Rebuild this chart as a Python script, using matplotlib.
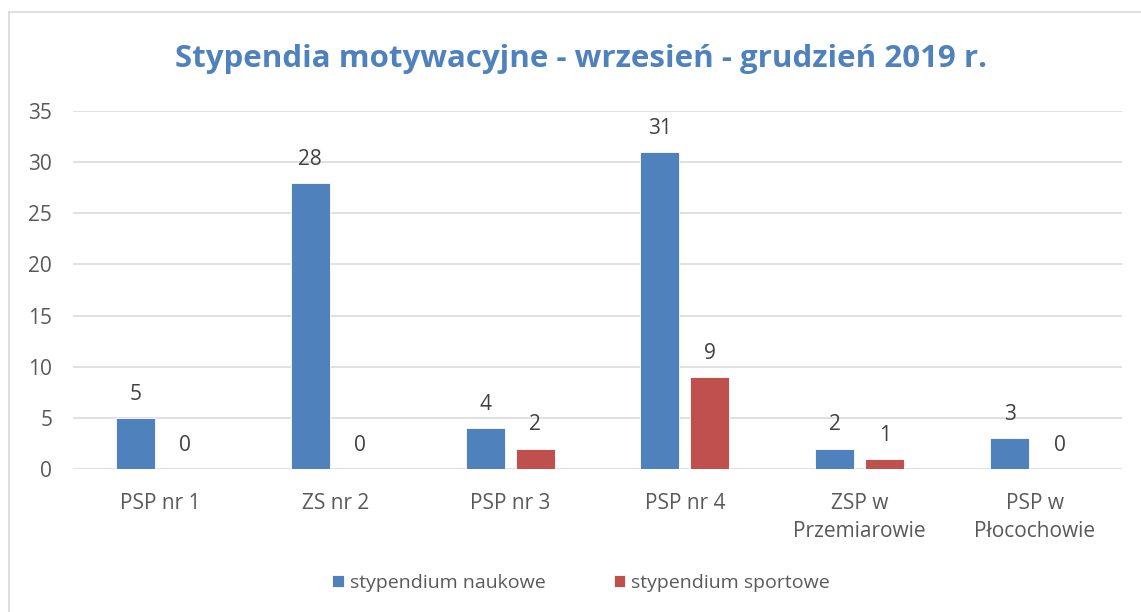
import matplotlib
matplotlib.use("Agg")
import matplotlib.pyplot as plt
from matplotlib.lines import Line2D
import numpy as np

categories = ["PSP nr 1", "ZS nr 2", "PSP nr 3", "PSP nr 4", "ZSP w\nPrzemiarowie", "PSP w\nPłocochowie"]
naukowe = [5, 28, 4, 31, 2, 3]
sportowe = [0, 0, 2, 9, 1, 0]
series_names = ["stypendium naukowe", "stypendium sportowe"]
title = "Stypendia motywacyjne - wrzesień - grudzień 2019 r."
yticks = [0, 5, 10, 15, 20, 25, 30, 35]

BLUE = "#4F81BD"
RED = "#C0504D"
GRID = "#D9D9D9"
TICKC = "#595959"
LABELC = "#404040"
FONT = "Open Sans"

plt.rcParams['font.family'] = [FONT, 'DejaVu Sans']

W, H = 1141, 612
fig = plt.figure(figsize=(W / 100, H / 100), dpi=100)
ax = fig.add_axes([73 / W, 1 - 469 / H, (1122 - 73) / W, (469 - 111) / H])

x = np.arange(len(categories))
bw = 0.223
off = 0.143
b1 = ax.bar(x - off, naukowe, bw, color=BLUE, edgecolor="white", linewidth=0.6, zorder=3, label=series_names[0])
b2 = ax.bar(x + off, sportowe, bw, color=RED, edgecolor="white", linewidth=0.6, zorder=3, label=series_names[1])

for bars, vals in ((b1, naukowe), (b2, sportowe)):
    for rect, v in zip(bars, vals):
        ax.annotate(str(v), (rect.get_x() + rect.get_width() / 2, v),
                    xytext=(0, 13), textcoords="offset points",
                    ha="center", va="baseline", fontsize=15, color=LABELC)

ax.set_xlim(-0.5, len(categories) - 0.5)
ax.set_ylim(0, 35)
ax.set_yticks(yticks)
ax.set_xticks(x)
ax.set_xticklabels(categories, linespacing=1.45)
ax.tick_params(axis="both", length=0, labelsize=15, labelcolor=TICKC)
ax.tick_params(axis="y", pad=15)
ax.tick_params(axis="x", pad=17)
ax.grid(axis="y", color=GRID, linewidth=1.1, zorder=0)
ax.set_axisbelow(True)
for s in ax.spines.values():
    s.set_visible(False)

fig.text(581 / W, 1 - 59 / H, title, ha="center", va="center",
         fontsize=22.5, fontweight="bold", color=BLUE)

fig.legend(handles=[b1, b2], labels=series_names, loc="center",
           bbox_to_anchor=(581 / W, 1 - 583 / H), ncol=2, frameon=False,
           fontsize=14, labelcolor=TICKC, handlelength=0.6, handleheight=0.6,
           handletextpad=0.3, columnspacing=3.5)

# chart border (top and left visible)
fig.add_artist(Line2D([9 / W, 9 / W], [0, 1 - 12 / H], transform=fig.transFigure, color=GRID, linewidth=1.2))
fig.add_artist(Line2D([9 / W, 1], [1 - 12 / H, 1 - 12 / H], transform=fig.transFigure, color=GRID, linewidth=1.2))

fig.savefig("out.png", dpi=100)
